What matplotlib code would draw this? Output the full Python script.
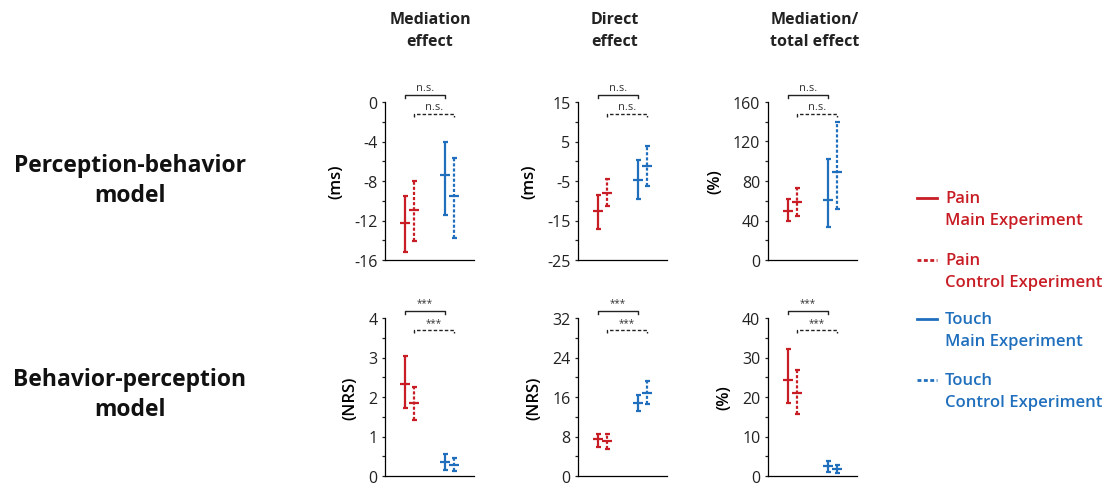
import matplotlib.pyplot as plt
import matplotlib.transforms as mtransforms
from matplotlib.lines import Line2D
import numpy as np

plt.rcParams['font.family'] = ['Open Sans', 'DejaVu Sans']
plt.rcParams['axes.unicode_minus'] = False

W, H = 1105, 485
red = '#c81d25'
blue = '#1f6fbd'

# groups: pain main, pain control, touch main, touch control
xpos = [2.0, 2.9, 6.0, 6.9]
colors = [red, red, blue, blue]
dashed = [False, True, False, True]

# Perception-behavior model
pb_med = [-12.3, -10.9, -7.4, -9.5]
pb_med_lo = [-15.2, -14.1, -11.4, -13.8]
pb_med_hi = [-9.5, -8.0, -4.0, -5.7]

pb_dir = [-12.7, -8.0, -4.8, -1.3]
pb_dir_lo = [-17.1, -11.4, -9.5, -6.2]
pb_dir_hi = [-8.5, -4.5, 0.4, 3.8]

pb_pct = [49.8, 58.3, 60.3, 88.8]
pb_pct_lo = [39.7, 44.7, 33.9, 51.5]
pb_pct_hi = [61.7, 72.9, 102.7, 139.7]

# Behavior-perception model
bp_med = [2.34, 1.85, 0.36, 0.28]
bp_med_lo = [1.73, 1.43, 0.15, 0.13]
bp_med_hi = [3.04, 2.26, 0.56, 0.45]

bp_dir = [7.4, 7.1, 14.8, 16.9]
bp_dir_lo = [5.8, 5.5, 13.2, 14.5]
bp_dir_hi = [8.6, 8.5, 16.4, 19.3]

bp_pct = [24.3, 20.9, 2.5, 1.8]
bp_pct_lo = [18.4, 15.8, 0.9, 0.7]
bp_pct_hi = [32.2, 26.8, 3.8, 2.8]

col_titles = ['Mediation\neffect', 'Direct\neffect', 'Mediation/\ntotal effect']
row_titles = ['Perception-behavior\nmodel', 'Behavior-perception\nmodel']
legend_names = ['Pain\nMain Experiment', 'Pain\nControl Experiment',
                'Touch\nMain Experiment', 'Touch\nControl Experiment']

panels = [
    # (row, col, values, lo, hi, ylim, major step, minor step, ylabel, sig)
    (0, 0, pb_med, pb_med_lo, pb_med_hi, (-16, 0), 4, 2, '(ms)', 'n.s.'),
    (0, 1, pb_dir, pb_dir_lo, pb_dir_hi, (-25, 15), 10, 5, '(ms)', 'n.s.'),
    (0, 2, pb_pct, pb_pct_lo, pb_pct_hi, (0, 160), 40, 20, '(%)', 'n.s.'),
    (1, 0, bp_med, bp_med_lo, bp_med_hi, (0, 4), 1, 0.5, '(NRS)', '***'),
    (1, 1, bp_dir, bp_dir_lo, bp_dir_hi, (0, 32), 8, 4, '(NRS)', '***'),
    (1, 2, bp_pct, bp_pct_lo, bp_pct_hi, (0, 40), 10, 5, '(%)', '***'),
]

fig = plt.figure(figsize=(W / 100, H / 100), dpi=100)

ax_left = [385, 578, 768]
ax_top = [103, 319]
ax_w, ax_h = 89, 158

for row, col, vals, lo, hi, ylim, major, minor, ylabel, sig in panels:
    x0, y0 = ax_left[col], ax_top[row]
    ax = fig.add_axes([x0 / W, 1 - (y0 + ax_h) / H, ax_w / W, ax_h / H])
    for i in range(4):
        err = [[vals[i] - lo[i]], [hi[i] - vals[i]]]
        _, caps, bars = ax.errorbar([xpos[i]], [vals[i]], yerr=err, fmt='none',
                                    ecolor=colors[i], elinewidth=1.6,
                                    capsize=1.8, capthick=1.6)
        ax.plot([xpos[i]], [vals[i]], marker='_', ms=7, mew=1.6,
                color=colors[i], ls='none')
        if dashed[i]:
            bars[0].set_linestyle((0, (1.4, 0.9)))
    ax.set_xlim(0, 8.9)
    ax.set_ylim(*ylim)
    ax.set_yticks(np.arange(ylim[0], ylim[1] + major / 2, major))
    ax.set_yticks(np.arange(ylim[0], ylim[1] + minor / 2, minor), minor=True)
    labels = ['%g' % v for v in np.arange(ylim[0], ylim[1] + major / 2, major)]
    ax.set_yticklabels(labels)
    ax.set_xticks([])
    ax.spines['top'].set_visible(False)
    ax.spines['right'].set_visible(False)
    ax.spines['left'].set_linewidth(0.9)
    ax.spines['bottom'].set_linewidth(0.9)
    ax.tick_params(axis='y', which='both', length=2.5, width=0.9,
                   labelsize=11.5, pad=3, colors='#222222')
    ax.set_ylabel(ylabel, fontsize=12, fontweight='semibold', labelpad=7)

    # significance brackets
    tr = mtransforms.blended_transform_factory(ax.transData, ax.transAxes)
    ax.plot([xpos[0], xpos[0], xpos[2], xpos[2]], [1.025, 1.047, 1.047, 1.025],
            color='#222222', lw=1.0, transform=tr, clip_on=False)
    ax.plot([xpos[1], xpos[1], xpos[3], xpos[3]], [0.905, 0.925, 0.925, 0.905],
            color='#222222', lw=1.0, ls=(0, (2.5, 1.5)), transform=tr, clip_on=False)
    fs = 8 if sig == 'n.s.' else 7
    ax.text((xpos[0] + xpos[2]) / 2, 1.06, sig, transform=tr, ha='center',
            va='bottom', fontsize=fs, color='#333333')
    ax.text((xpos[1] + xpos[3]) / 2, 0.938, sig, transform=tr, ha='center',
            va='bottom', fontsize=fs, color='#333333')

# column titles
for cx, t in zip([430, 615, 815], col_titles):
    fig.text(cx / W, 1 - 31 / H, t, ha='center', va='center', fontsize=11.5,
             fontweight='bold', linespacing=1.55, color='#222222')

# row titles
for cy, t in zip([181, 395], row_titles):
    fig.text(130 / W, 1 - cy / H, t, ha='center', va='center', fontsize=16.5,
             fontweight='bold', linespacing=1.35, color='#111111')

# legend
leg_y = [199, 261, 320, 381]
for i, (ly, name) in enumerate(zip(leg_y, legend_names)):
    ls = (0, (1.4, 0.9)) if dashed[i] else '-'
    fig.add_artist(Line2D([917 / W, 937 / W], [1 - ly / H, 1 - ly / H],
                          color=colors[i], lw=2.0, ls=ls))
    first, second = name.split('\n')
    fig.text(945 / W, 1 - ly / H, first, ha='left', va='center', fontsize=12,
             fontweight='semibold', color=colors[i])
    fig.text(945 / W, 1 - (ly + 22) / H, second, ha='left', va='center',
             fontsize=12, fontweight='semibold', color=colors[i])

fig.savefig('out.png', dpi=100)
